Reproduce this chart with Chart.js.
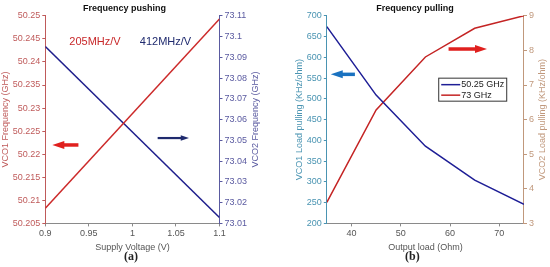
<!DOCTYPE html>
<html>
<head>
<meta charset="utf-8">
<script src="https://cdn.jsdelivr.net/npm/chart.js@4/dist/chart.umd.min.js"></script>
<style>
  body { margin: 0; background: #fff; width: 550px; height: 267px; position: relative; overflow: hidden; }
  .box { position: absolute; top: 0; width: 275px; height: 253px; }
  .cap { position: absolute; top: 249px; font: bold 12px "Liberation Serif", serif; color: #222; }
</style>
</head>
<body>
<div class="box" style="left:0"><canvas id="push"></canvas></div>
<div class="box" style="left:275px"><canvas id="pull"></canvas></div>
<div class="cap" style="left:124px">(a)</div>
<div class="cap" style="left:405px">(b)</div>
<script>
// --- frequency pushing (a)
const voltage = [0.9, 1.1];
const vco1Freq = [50.2083, 50.2493];
const vco2Freq = [73.0952, 73.0128];

// --- frequency pulling (b)
const load = [35, 45, 55, 65, 75];
const vco1Pull = [674, 509, 386, 304, 246];
const vco2Pull = [3.61, 6.28, 7.81, 8.64, 9.0];
const loadTicks = [40, 50, 60, 70];

const FONT = '"Liberation Sans", Arial, sans-serif';
Chart.defaults.font.family = FONT;
Chart.defaults.font.size = 9;

function pts(xs, ys) {
  return xs.map((x, i) => ({x: x, y: ys[i]}));
}

function drawArrow(ctx, x1, x2, y, color, shaft, head) {
  // arrow from x1 (tail) to x2 (head)
  const dir = x2 > x1 ? 1 : -1;
  ctx.save();
  ctx.strokeStyle = color;
  ctx.fillStyle = color;
  ctx.lineWidth = shaft;
  ctx.beginPath();
  ctx.moveTo(x1, y);
  ctx.lineTo(x2 - dir * head * 1.2, y);
  ctx.stroke();
  ctx.beginPath();
  ctx.moveTo(x2, y);
  ctx.lineTo(x2 - dir * head * 1.5, y - head / 2);
  ctx.lineTo(x2 - dir * head * 1.5, y + head / 2);
  ctx.closePath();
  ctx.fill();
  ctx.restore();
}

// right axis title reads bottom-to-top like the left one (matlab style)
function rightTitle(chart, text, color, offset) {
  const ctx = chart.ctx, a = chart.chartArea;
  ctx.save();
  ctx.translate(a.right + offset, (a.top + a.bottom) / 2);
  ctx.rotate(-Math.PI / 2);
  ctx.font = '9px ' + FONT;
  ctx.fillStyle = color;
  ctx.textAlign = 'center';
  ctx.textBaseline = 'middle';
  ctx.fillText(text, 0, 0);
  ctx.restore();
}

function yAxis(pos, min, max, step, color, title, fmt) {
  return {
    type: 'linear', position: pos, min: min, max: max,
    border: {color: color, width: 1},
    grid: {drawOnChartArea: false, color: color, tickLength: 3},
    ticks: {stepSize: step, color: color, padding: 2, font: {size: 9},
            callback: v => fmt(v)},
    title: {display: pos === 'left', text: title, color: color, font: {size: 9}, padding: {top: 0, bottom: 0}}
  };
}

function xAxis(min, max, step, title, fmt, fixed) {
  const ax = {
    type: 'linear', min: min, max: max,
    border: {color: '#8a8a8a'},
    grid: {drawOnChartArea: false, color: '#8a8a8a', tickLength: 3},
    ticks: {stepSize: step, color: '#555', padding: 2, font: {size: 9}, maxRotation: 0,
            callback: v => fmt(v)},
    title: {display: true, text: title, color: '#555', font: {size: 9}, padding: {top: 1, bottom: 0}}
  };
  if (fixed) ax.afterBuildTicks = s => { s.ticks = fixed.map(v => ({value: v})); };
  return ax;
}

const titleOpts = text => ({
  display: true, text: text, color: '#111',
  font: {size: 9, weight: 'bold'}, padding: {top: 3, bottom: 2}
});

// annotations for (a)
const pushNotes = {
  id: 'pushNotes',
  afterDraw(chart) {
    const ctx = chart.ctx, x = chart.scales.x, y = chart.scales.y;
    rightTitle(chart, 'VCO2 Frequency (GHz)', '#5a5aa0', 36);
    ctx.save();
    ctx.font = '11px ' + FONT;
    ctx.textAlign = 'center';
    ctx.textBaseline = 'middle';
    ctx.fillStyle = '#c8282a';
    ctx.fillText('205MHz/V', x.getPixelForValue(0.957), y.getPixelForValue(50.2443));
    ctx.fillStyle = '#1f2a6e';
    ctx.fillText('412MHz/V', x.getPixelForValue(1.038), y.getPixelForValue(50.2443));
    ctx.restore();
    drawArrow(ctx, x.getPixelForValue(0.938), x.getPixelForValue(0.908),
              y.getPixelForValue(50.222), '#e0201e', 3.5, 8);
    drawArrow(ctx, x.getPixelForValue(1.029), x.getPixelForValue(1.065),
              y.getPixelForValue(50.2235), '#1f2a6e', 2.2, 5.5);
  }
};

// annotations + boxed legend for (b)
const pullNotes = {
  id: 'pullNotes',
  afterDraw(chart) {
    const ctx = chart.ctx, x = chart.scales.x, y = chart.scales.y;
    rightTitle(chart, 'VCO2 Load pulling (KHz/ohm)', '#c0987c', 19);
    drawArrow(ctx, x.getPixelForValue(40.7), x.getPixelForValue(35.8),
              y.getPixelForValue(559), '#1a72c0', 3.5, 8);
    drawArrow(ctx, x.getPixelForValue(59.7), x.getPixelForValue(67.5),
              y.getPixelForValue(620), '#e0201e', 3.5, 8);

    const lx = x.getPixelForValue(57.6), ly = y.getPixelForValue(551);
    const w = 68, h = 23;
    ctx.save();
    ctx.fillStyle = '#fff';
    ctx.fillRect(lx, ly, w, h);
    ctx.strokeStyle = '#333';
    ctx.lineWidth = 1;
    ctx.strokeRect(lx + 0.5, ly + 0.5, w, h);
    ctx.font = '9px ' + FONT;
    ctx.textBaseline = 'middle';
    chart.data.datasets.forEach((ds, i) => {
      const yy = ly + 7 + i * 10.5;
      ctx.strokeStyle = ds.borderColor;
      ctx.lineWidth = 1.5;
      ctx.beginPath();
      ctx.moveTo(lx + 3, yy);
      ctx.lineTo(lx + 22, yy);
      ctx.stroke();
      ctx.fillStyle = '#222';
      ctx.fillText(ds.label, lx + 23, yy);
    });
    ctx.restore();
  }
};

const trim = d => v => String(parseFloat(v.toFixed(d)));

new Chart(document.getElementById('push'), {
  type: 'line',
  data: {
    datasets: [
      {label: 'VCO1', data: pts(voltage, vco1Freq), yAxisID: 'y',
       borderColor: '#cc2a2a', borderWidth: 1.5, pointRadius: 0},
      {label: 'VCO2', data: pts(voltage, vco2Freq), yAxisID: 'y1',
       borderColor: '#1e1e8c', borderWidth: 1.5, pointRadius: 0}
    ]
  },
  options: {
    responsive: true, maintainAspectRatio: false, animation: false,
    layout: {padding: {left: 0, right: 26, top: 0, bottom: 0}},
    plugins: {legend: {display: false}, tooltip: {enabled: false},
              title: titleOpts('Frequency pushing')},
    scales: {
      x: xAxis(0.9, 1.1, 0.05, 'Supply Voltage (V)', trim(2)),
      y: yAxis('left', 50.205, 50.25, 0.005, '#bf5a5a', 'VCO1 Frequency (GHz)', trim(3)),
      y1: yAxis('right', 73.01, 73.11, 0.01, '#5a5aa0', 'VCO2 Frequency (GHz)', trim(2))
    }
  },
  plugins: [pushNotes]
});

new Chart(document.getElementById('pull'), {
  type: 'line',
  data: {
    datasets: [
      {label: '50.25 GHz', data: pts(load, vco1Pull), yAxisID: 'y',
       borderColor: '#1e1e96', borderWidth: 1.5, pointRadius: 0},
      {label: '73 GHz', data: pts(load, vco2Pull), yAxisID: 'y1',
       borderColor: '#c42424', borderWidth: 1.5, pointRadius: 0}
    ]
  },
  options: {
    responsive: true, maintainAspectRatio: false, animation: false,
    layout: {padding: {left: 19, right: 14, top: 0, bottom: 0}},
    plugins: {legend: {display: false}, tooltip: {enabled: false},
              title: titleOpts('Frequency pulling')},
    scales: {
      x: xAxis(35, 75, 10, 'Output load (Ohm)', trim(0), loadTicks),
      y: yAxis('left', 200, 700, 50, '#4a94b2', 'VCO1 Load pulling (KHz/ohm)', trim(0)),
      y1: yAxis('right', 3, 9, 1, '#c0987c', 'VCO2 Load pulling (KHz/ohm)', trim(0))
    }
  },
  plugins: [pullNotes]
});
</script>
</body>
</html>
